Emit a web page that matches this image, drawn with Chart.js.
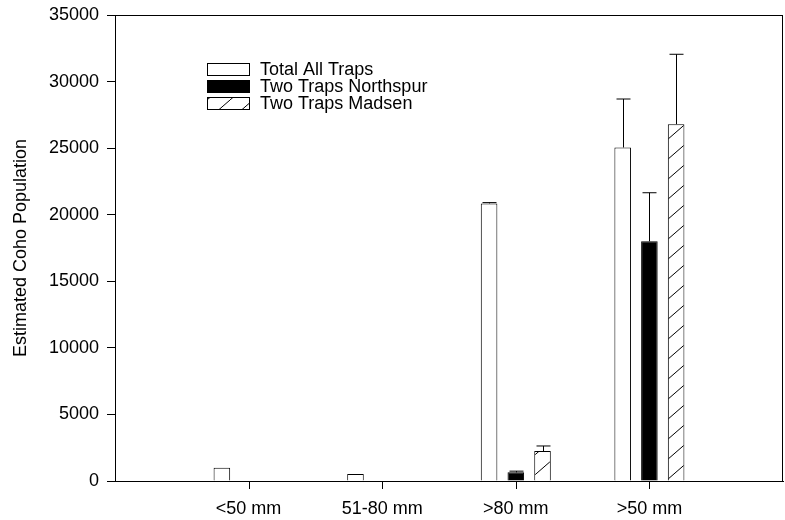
<!DOCTYPE html>
<html>
<head>
<meta charset="utf-8">
<script src="https://cdn.jsdelivr.net/npm/chart.js@4.4.1/dist/chart.umd.min.js"></script>
<style>
  body { margin: 0; background: #fff; }
</style>
</head>
<body>
<canvas id="coho-chart" width="785" height="520"></canvas>
<script>
// categories (blank slots at the ends keep the groups spaced like the original)
var sizeClasses = ["", "<50 mm", "51-80 mm", ">80 mm", ">50 mm", ""];

var totalAll = [null, 1000, 520, 20850, 25050, null];
var totalAllErr = [0, 0, 0, 60, 3640, 0];

var northspur = [null, null, null, 650, 18000, null];
var northspurErr = [0, 0, 0, 90, 3650, 0];

var madsen = [null, null, null, 2250, 26800, null];
var madsenErr = [0, 0, 0, 380, 5250, 0];

var yTicks = [0, 5000, 10000, 15000, 20000, 25000, 30000, 35000];

var FONT = "Arial, 'Liberation Sans', sans-serif";

// diagonal hatch for the Madsen bars
function makeHatch() {
  var c = document.createElement('canvas');
  c.width = 23; c.height = 20;
  var g = c.getContext('2d');
  g.fillStyle = '#fff';
  g.fillRect(0, 0, 23, 20);
  g.strokeStyle = '#000';
  g.lineWidth = 1;
  g.beginPath();
  g.moveTo(-23, 40); g.lineTo(46, -20);
  g.stroke();
  return g.createPattern(c, 'repeat');
}
var hatch = makeHatch();

var errorBars = {
  id: 'errorBars',
  afterDatasetsDraw: function(chart) {
    var ctx = chart.ctx;
    var y = chart.scales.y;
    ctx.save();
    ctx.strokeStyle = '#000';
    ctx.lineWidth = 1;
    chart.data.datasets.forEach(function(ds, di) {
      var meta = chart.getDatasetMeta(di);
      meta.data.forEach(function(bar, i) {
        var v = ds.data[i], e = ds.errors[i];
        if (v == null || !e) return;
        var x = Math.round(bar.x) + 0.5;
        var top = y.getPixelForValue(v + e);
        ctx.beginPath();
        ctx.moveTo(x, bar.y);
        ctx.lineTo(x, top);
        ctx.moveTo(x - 7, top);
        ctx.lineTo(x + 7, top);
        ctx.stroke();
      });
    });
    ctx.restore();
  }
};

var frameAndLegend = {
  id: 'frameAndLegend',
  afterDraw: function(chart) {
    var ctx = chart.ctx, a = chart.chartArea, xs = chart.scales.x;
    ctx.save();
    ctx.strokeStyle = '#000';
    ctx.lineWidth = 1;
    ctx.strokeRect(Math.round(a.left) + 0.5, Math.round(a.top) + 0.5,
                   Math.round(a.right - a.left) - 1, Math.round(a.bottom - a.top));
    // legend inside the plot
    ctx.font = '18px ' + FONT;
    ctx.textBaseline = 'middle';
    ctx.textAlign = 'left';
    chart.data.datasets.forEach(function(ds, k) {
      var top = 63 + k * 17;
      ctx.fillStyle = ds.backgroundColor;
      ctx.fillRect(207, top, 42, 12);
      ctx.strokeRect(207.5, top + 0.5, 42, 12);
      ctx.fillStyle = '#000';
      ctx.fillText(ds.label, 260, top + 7);
    });
    ctx.restore();

    // drop any clip still on the stack so the ticks below the axis show
    for (var n = 0; n < 10; n++) ctx.restore();
    ctx.setTransform(1, 0, 0, 1, 0, 0);
    ctx.fillStyle = '#000';
    var base = Math.round(a.bottom);
    for (var i = 0; i < sizeClasses.length; i++) {
      if (!sizeClasses[i]) continue;
      ctx.fillRect(Math.round(xs.getPixelForValue(i)), base, 1, 8);
    }
  }
};

new Chart(document.getElementById('coho-chart'), {
  type: 'bar',
  data: {
    labels: sizeClasses,
    datasets: [
      { label: 'Total All Traps', data: totalAll, errors: totalAllErr,
        backgroundColor: '#fff', borderColor: '#000', borderWidth: 1 },
      { label: 'Two Traps Northspur', data: northspur, errors: northspurErr,
        backgroundColor: '#000', borderColor: '#000', borderWidth: 1 },
      { label: 'Two Traps Madsen', data: madsen, errors: madsenErr,
        backgroundColor: hatch, borderColor: '#000', borderWidth: 1 }
    ]
  },
  options: {
    responsive: false,
    animation: false,
    categoryPercentage: 0.6,
    barPercentage: 0.62,
    layout: { padding: { top: 15, right: 2, left: 0, bottom: 0 } },
    plugins: { legend: { display: false }, tooltip: { enabled: false } },
    scales: {
      x: {
        offset: false,
        afterFit: function(s) { s.height = 39; s.paddingLeft = 0; s.paddingRight = 0; },
        grid: { display: false },
        border: { color: '#000' },
        ticks: { color: '#000', font: { family: FONT, size: 18 }, padding: 9, maxRotation: 0, autoSkip: false }
      },
      y: {
        min: 0,
        max: 35000,
        afterFit: function(s) { s.width = 115; s.paddingTop = 0; s.paddingBottom = 0; },
        afterBuildTicks: function(s) { s.ticks = yTicks.map(function(v) { return { value: v }; }); },
        grid: { drawOnChartArea: false, tickLength: 8, color: '#000' },
        border: { color: '#000' },
        ticks: { color: '#000', font: { family: FONT, size: 18 }, padding: 8,
                 callback: function(v) { return String(v); } },
        title: {
          display: true,
          text: 'Estimated Coho Population',
          color: '#000',
          font: { family: FONT, size: 18 },
          padding: { top: 10, bottom: 0 }
        }
      }
    }
  },
  plugins: [errorBars, frameAndLegend]
});
</script>
</body>
</html>
